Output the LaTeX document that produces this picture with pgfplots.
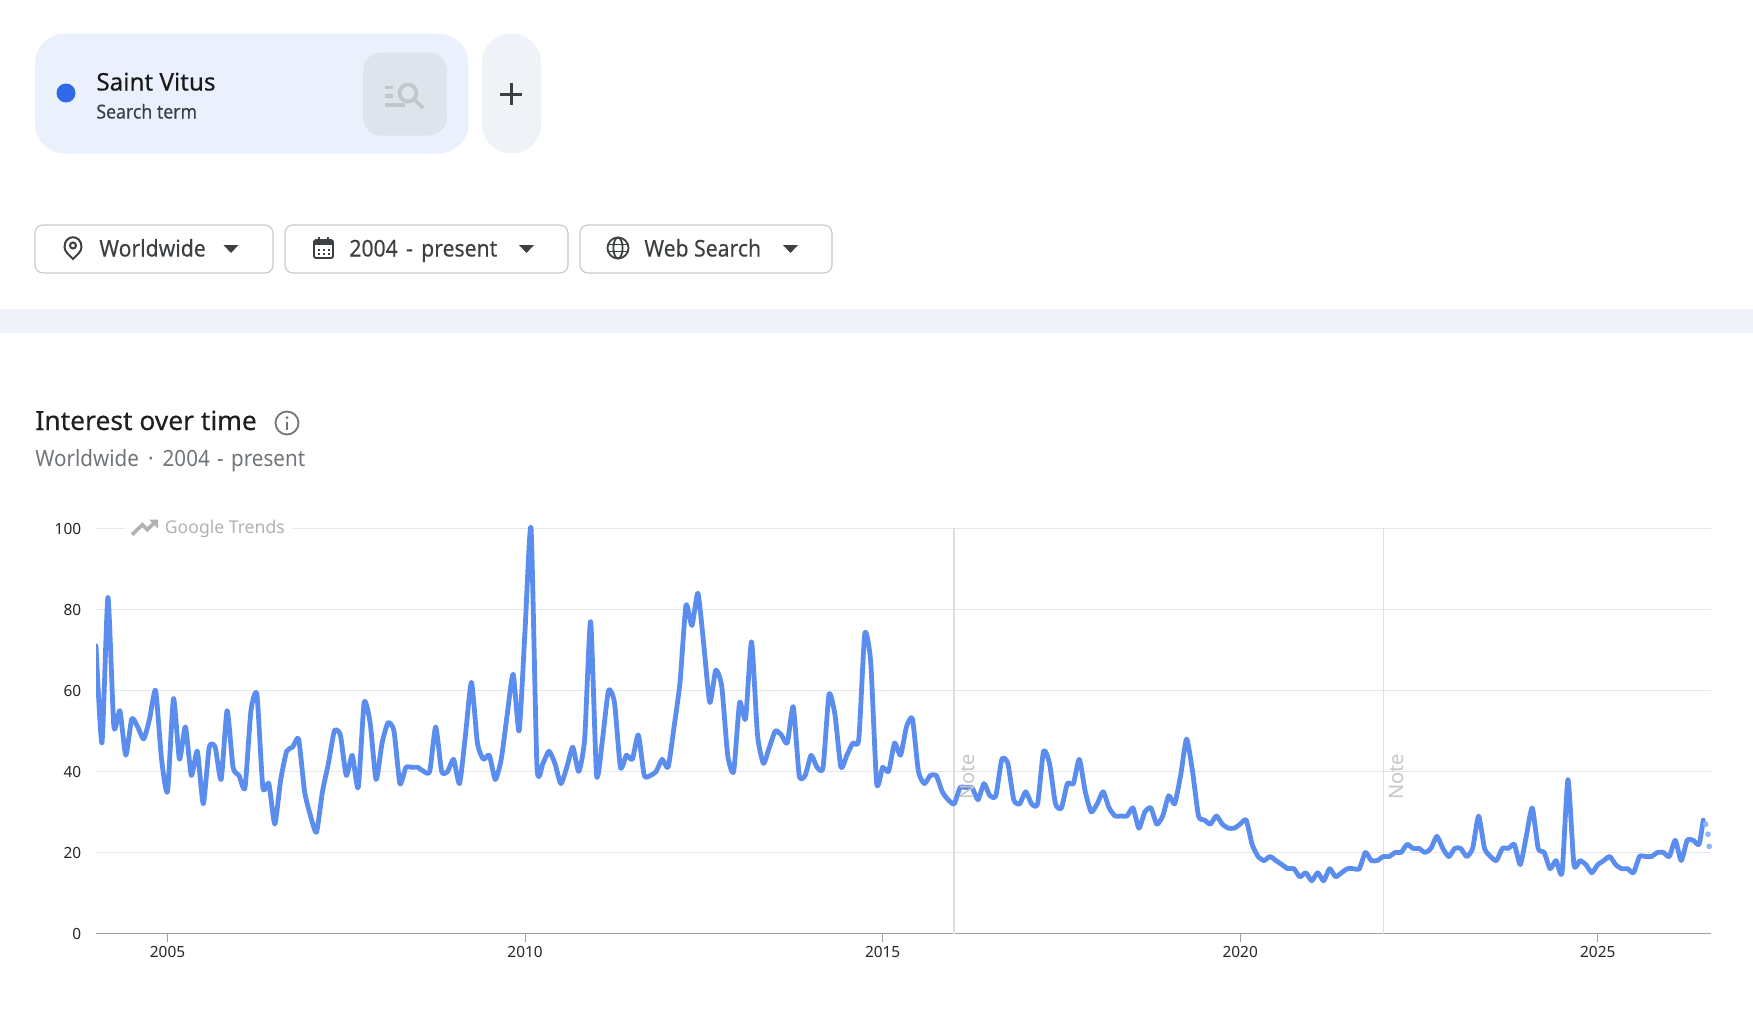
\documentclass[border=0pt]{standalone}
\usepackage{fontspec}
\usepackage{pgfplots}
\pgfplotsset{compat=1.18}
\usetikzlibrary{arrows.meta}
\setmainfont{Noto Sans}
\newfontface\nar[FakeStretch=0.92]{Noto Sans}
\newfontface\narm[FakeStretch=0.92,FakeBold=0.2]{Noto Sans}
\newfontface\med[FakeBold=0.3]{Noto Sans}
\definecolor{lineb}{HTML}{5B8DEF}
\definecolor{dotsb}{HTML}{8DB5FB}
\definecolor{gridc}{HTML}{E5E7EA}
\definecolor{vline}{HTML}{DEDFE1}
\definecolor{basec}{HTML}{9AA0A6}
\definecolor{card}{HTML}{EAF1FD}
\definecolor{inner}{HTML}{DFE4EC}
\definecolor{plusbg}{HTML}{EFF2F7}
\definecolor{band}{HTML}{F0F3F8}
\definecolor{ink}{HTML}{3C4043}
\definecolor{sub}{HTML}{70757A}
\definecolor{wm}{HTML}{B2B2B2}
\definecolor{note}{HTML}{C6C6C6}
\definecolor{dot}{HTML}{3168E8}
\definecolor{edge}{HTML}{C6C8CA}
\definecolor{icon}{HTML}{C2C7CE}
\newcommand{\fs}[1]{\fontsize{#1}{#1}\selectfont}
\begin{document}
\begin{tikzpicture}[x=0.5pt,y=-0.5pt]
\path[use as bounding box,fill=white] (0,0) rectangle (1753,1033);
% search-term card
\fill[card,rounded corners=15pt] (35,33.5) rectangle (468.5,153.5);
\fill[inner,rounded corners=9pt] (363,52.5) rectangle (447,135.5);
\begin{scope}[draw=icon,line width=1.9pt]
\draw (385,87.5)--(393,87.5) (385,96)--(393,96) (385,105)--(405,105);
\draw (408,93) circle (8.5);
\draw (414.5,99.5)--(423,108);
\end{scope}
\fill[dot] (66,93) circle (9.5);
\node[anchor=base west,inner sep=0pt,text=black!90] at (96,90.5) {\med\fs{12.1}Saint Vitus};
\node[anchor=base west,inner sep=0pt,text=ink] at (96,118.5) {\narm\fs{9.6}Search term};
\fill[plusbg,rounded corners=14.7pt] (482,33.5) rectangle (541,153.5);
\draw[ink,line width=1.5pt] (511,83)--(511,105) (500,94)--(522,94);
% dropdowns
\foreach \a/\b in {35/273,285/568,580/832}{
  \draw[edge,line width=0.55pt,rounded corners=4pt] (\a,225)rectangle(\b,273);}
\node[anchor=base west,inner sep=0pt,text=ink] at (99,256.5) {\narm\fs{11.5}Worldwide};
\node[anchor=base west,inner sep=0pt,text=ink] at (349,256.5) {\narm\fs{11.5}2004\hspace{1.4pt} - \hspace{1.4pt}present};
\node[anchor=base west,inner sep=0pt,text=ink] at (644,256.5) {\narm\fs{11.5}Web Search};
\foreach \c in {231,526.5,790.5}{\fill[ink] (\c-7.5,245)--(\c+7.5,245)--(\c,253)--cycle;}
% pin
\begin{scope}[shift={(8.5,0)}]
\draw[ink,line width=1pt] (73,247) .. controls (73,234) and (56,234) .. (56,247) .. controls (56,252) and (61,255) .. (64.5,259) .. controls (68,255) and (73,252) .. (73,247)--cycle;
\draw[ink,line width=1pt] (64.5,245.5) circle (3);
\end{scope}
% calendar
\draw[ink,line width=0.9pt,rounded corners=1pt] (314,240)rectangle(333,258);
\fill[ink] (314,240)rectangle(333,244.5);
\draw[ink,line width=0.9pt] (319,237)--(319,241) (328,237)--(328,241);
\foreach \u in {318.5,323.5,328.5}{\foreach \v in {249.5,254}{\fill[ink] (\u-1,\v-1) rectangle (\u+1,\v+1);}}
% globe
\begin{scope}[ink,line width=0.9pt]
\draw (618,248) circle (10.5);
\draw (618,248) ellipse (4.6 and 10.5);
\draw (607.5,244.5)--(628.5,244.5) (607.5,251.5)--(628.5,251.5);
\end{scope}
% band
\fill[band] (0,309) rectangle (1753,333);
% heading
\node[anchor=base west,inner sep=0pt,text=black!88] at (35,430) {\med\fs{13.2}Interest over time};
\draw[sub,line width=0.9pt] (287,423) circle (11.5);
\fill[sub] (287,417.5) circle (1.5);
\draw[sub,line width=1pt] (287,421.5)--(287,429.5);
\node[anchor=base west,inner sep=0pt,text=sub] at (35,466) {\nar\fs{11.2}Worldwide\hspace{-0.8pt} \ · \ \hspace{-0.8pt}2004\hspace{1pt} - \hspace{1pt}present};
% chart
\begin{axis}[
  at={(48pt,-466.75pt)},anchor=south west,scale only axis,
  width=807.5pt,height=206.65pt,
  xmin=0,xmax=271,ymin=0,ymax=102,
  axis x line=bottom,axis y line=left,
  y axis line style={draw=none},
  x axis line style={draw=basec,line width=0.7pt,-},
  xtick={12,72,132,192,252},xticklabels={2005,2010,2015,2020,2025},
  ytick={0,20,40,60,80,100},
  ymajorgrids,grid style={draw=gridc,line width=0.7pt},
  tick align=outside,major tick length=4pt,
  xtick style={draw=basec,line width=0.5pt},
  ytick style={draw=none},
  /pgf/number format/assume math mode=true,
  tick label style={font=\fs{7.7},text=black!85},
  yticklabel style={anchor=east,xshift=0.1pt,yshift=-0.2pt},
  xticklabel style={anchor=base,yshift=-7.9pt},
]
\addplot[vline,line width=0.7pt] coordinates {(144,0)(144,100)};
\addplot[vline,line width=0.7pt] coordinates {(216,0)(216,100)};
\addplot[lineb,line width=2.4pt,smooth,tension=0.35,line join=round,line cap=round] coordinates {
(0,71)(1,47)(2,83)(3,51)(4,55)(5,44)(6,53)(7,51)(8,48)(9,53)(10,60)(11,43)(12,35)(13,58)(14,43)(15,51)(16,39)(17,45)(18,32)(19,46)(20,46)(21,38)(22,55)(23,41)
(24,39)(25,36)(26,55)(27,59)(28,36)(29,37)(30,27)(31,38)(32,45)(33,46)(34,48)(35,35)(36,29)(37,25)(38,35)(39,42)(40,50)(41,49)(42,39)(43,44)(44,36)(45,57)(46,52)(47,38)
(48,47)(49,52)(50,50)(51,37)(52,41)(53,41)(54,41)(55,40)(56,40)(57,51)(58,40)(59,40)(60,43)(61,37)(62,49)(63,62)(64,47)(65,43)(66,44)(67,38)(68,43)(69,54)(70,64)(71,50)
(72,75)(73,100)(74,41)(75,42)(76,45)(77,42)(78,37)(79,41)(80,46)(81,40)(82,48)(83,77)(84,39)(85,48)(86,60)(87,57)(88,41)(89,44)(90,43)(91,49)(92,39)(93,39)(94,40)(95,43)
(96,41)(97,51)(98,62)(99,81)(100,76)(101,84)(102,71)(103,57)(104,65)(105,61)(106,44)(107,40)(108,57)(109,53)(110,72)(111,49)(112,42)(113,46)(114,50)(115,49)(116,47)(117,56)(118,39)(119,39)
(120,44)(121,41)(122,41)(123,59)(124,54)(125,41)(126,44)(127,47)(128,48)(129,74)(130,67)(131,37)(132,41)(133,40)(134,47)(135,44)(136,51)(137,53)(138,40)(139,37)(140,39)(141,39)(142,35)(143,33)
(144,32)(145,36)(146,36)(147,36)(148,33)(149,37)(150,34)(151,34)(152,43)(153,42)(154,33)(155,32)(156,35)(157,32)(158,32)(159,45)(160,42)(161,32)(162,31)(163,37)(164,37)(165,43)(166,35)(167,30)
(168,32)(169,35)(170,31)(171,29)(172,29)(173,29)(174,31)(175,26)(176,30)(177,31)(178,27)(179,29)(180,34)(181,32)(182,39)(183,48)(184,40)(185,29)(186,28)(187,27)(188,29)(189,27)(190,26)(191,26)
(192,27)(193,28)(194,22)(195,19)(196,18)(197,19)(198,18)(199,17)(200,16)(201,16)(202,14)(203,15)(204,13)(205,15)(206,13)(207,16)(208,14)(209,15)(210,16)(211,16)(212,16)(213,20)(214,18)(215,18)
(216,19)(217,19)(218,20)(219,20)(220,22)(221,21)(222,21)(223,20)(224,21)(225,24)(226,21)(227,19)(228,21)(229,21)(230,19)(231,21)(232,29)(233,21)(234,19)(235,18)(236,21)(237,21)(238,22)(239,17)
(240,24)(241,31)(242,21)(243,20)(244,16)(245,18)(246,15)(247,38)(248,17)(249,18)(250,17)(251,15)(252,17)(253,18)(254,19)(255,17)(256,16)(257,16)(258,15)(259,19)(260,19)(261,19)(262,20)(263,20)
(264,19)(265,23)(266,18)(267,23)(268,23)(269,22)(269.7,28)};
\addplot[only marks,mark=*,mark size=1.2pt,dotsb,mark options={draw=none,fill=dotsb}] coordinates {(270.1,27)(270.5,24.5)(270.7,21.5)};
\end{axis}
% watermark over the 100 gridline
\fill[white] (124.5,518) rectangle (293,538);
\draw[wm,line width=1.8pt] (132,534.7)--(142.4,524.7)--(147.3,529.7)--(155,522);
\fill[wm] (158,519.5)--(149,519.5)--(158,528.5)--cycle;
\node[anchor=base west,inner sep=0pt,text=wm] at (164.5,533.5) {\fs{8.8}Google Trends};
\node[rotate=90,inner sep=0pt,text=note] at (967,777) {\fs{10}Note};
\node[rotate=90,inner sep=0pt,text=note] at (1396,777) {\fs{10}Note};
\end{tikzpicture}
\end{document}
